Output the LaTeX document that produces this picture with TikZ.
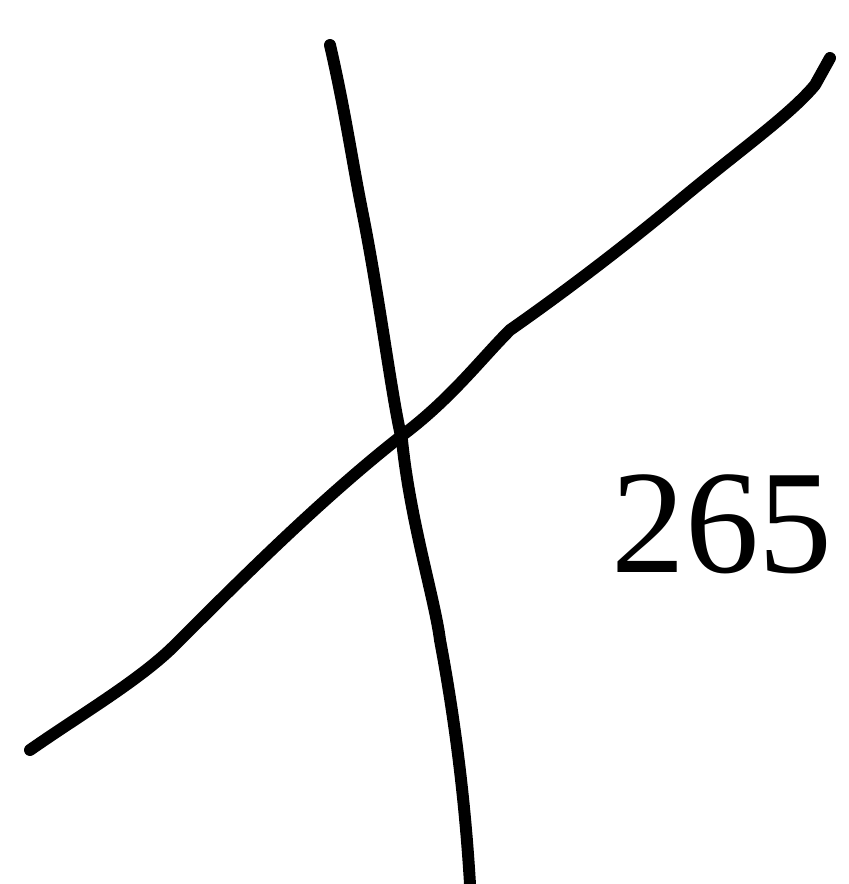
\documentclass[tikz,border=0pt]{standalone}
\usepackage{fontspec}
\setmainfont{Liberation Serif}
\begin{document}
\begin{tikzpicture}[x=0.01cm,y=-0.01cm,
  stroke/.style={line width=3.4pt,line cap=round,line join=round}]
\useasboundingbox (0,0) rectangle (849,884);
\coordinate (a1) at (330,45);
\coordinate (a2) at (470,884);
\draw[stroke] (a1) .. controls (345,110) and (352,160) .. (362,210)
  .. controls (380,300) and (392,400) .. (402,440)
  .. controls (410,520) and (435,600) .. (440,640)
  .. controls (455,720) and (465,800) .. (a2);
\coordinate (b1) at (30,750);
\coordinate (b2) at (830,58);
\draw[stroke] (b1) .. controls (80,715) and (140,680) .. (175,645)
  .. controls (240,580) and (320,500) .. (400,437)
  .. controls (450,400) and (480,360) .. (510,330)
  .. controls (560,295) and (620,250) .. (680,200)
  .. controls (740,150) and (790,115) .. (815,85)
  -- (b2);
\node[font=\fontsize{42}{50}\selectfont,inner sep=0pt] (t) at (722,524) {265};
\end{tikzpicture}
\end{document}
